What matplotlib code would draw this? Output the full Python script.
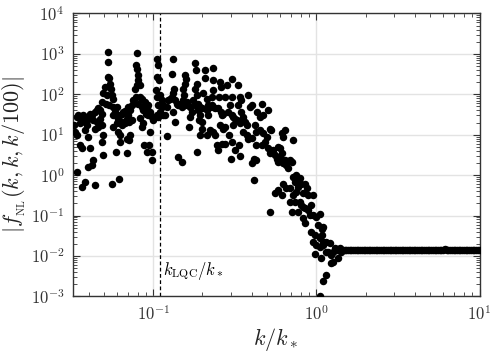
import numpy as np
import matplotlib
matplotlib.use("Agg")
import matplotlib.pyplot as plt
from matplotlib.ticker import LogLocator, NullFormatter, FuncFormatter

# ---- data (log10 values) ----
log10_k_scatter = [
    -1.487, -1.481, -1.471, -1.461, -1.450, -1.440, -1.430, -1.420, -1.409, -1.467,
    -1.450, -1.440, -1.471, -1.440, -1.420, -1.400, -1.379, -1.369, -1.389, -1.400,
    -1.420, -1.409, -1.400, -1.389, -1.379, -1.369, -1.358, -1.348, -1.338, -1.328,
    -1.317, -1.328, -1.348, -1.358, -1.338, -1.317, -1.308, -1.317, -1.311, -1.358,
    -1.281, -1.277, -1.281, -1.271, -1.299, -1.267, -1.262, -1.308, -1.287, -1.256,
    -1.246, -1.271, -1.250, -1.291, -1.314, -1.236, -1.225, -1.246, -1.250, -1.225,
    -1.216, -1.205, -1.205, -1.230, -1.256, -1.210, -1.216, -1.205, -1.195, -1.185,
    -1.175, -1.185, -1.195, -1.175, -1.164, -1.154, -1.148, -1.134, -1.144, -1.134,
    -1.123, -1.154, -1.164, -1.148, -1.164, -1.144, -1.103, -1.107, -1.103, -1.093,
    -1.093, -1.103, -1.083, -1.113, -1.107, -1.083, -1.072, -1.093, -1.072, -1.062,
    -1.083, -1.066, -1.072, -1.052, -1.042, -1.032, -1.021, -1.046, -1.032, -1.011,
    -1.058, -1.042, -1.026, -1.011, -1.011, -1.021, -0.980, -0.974, -0.977, -0.964,
    -0.985, -0.977, -0.960, -0.950, -0.971, -0.960, -0.980, -1.001, -0.971, -0.940,
    -0.950, -0.940, -0.882, -0.885, -0.919, -0.909, -0.899, -0.888, -0.879, -0.874,
    -0.868, -0.858, -0.848, -0.879, -0.930, -0.868, -0.915, -0.848, -0.827, -0.807,
    -0.801, -0.807, -0.817, -0.813, -0.821, -0.838, -0.827, -0.807, -0.797, -0.787,
    -0.776, -0.766, -0.776, -0.780, -0.746, -0.740, -0.735, -0.746, -0.735, -0.756,
    -0.746, -0.725, -0.715, -0.725, -0.705, -0.715, -0.719, -0.705, -0.715, -0.699,
    -0.732, -0.684, -0.684, -0.695, -0.674, -0.664, -0.654, -0.643, -0.634, -0.623,
    -0.674, -0.664, -0.654, -0.674, -0.634, -0.623, -0.637, -0.634, -0.634, -0.643,
    -0.593, -0.588, -0.597, -0.603, -0.588, -0.582, -0.572, -0.593, -0.572, -0.562,
    -0.562, -0.551, -0.582, -0.613, -0.603, -0.562, -0.536, -0.515, -0.521, -0.531,
    -0.542, -0.521, -0.511, -0.501, -0.490, -0.511, -0.521, -0.501, -0.525, -0.474,
    -0.466, -0.480, -0.470, -0.480, -0.460, -0.450, -0.439, -0.425, -0.419, -0.409,
    -0.398, -0.429, -0.419, -0.398, -0.398, -0.384, -0.384, -0.460, -0.470, -0.450,
    -0.337, -0.364, -0.347, -0.327, -0.297, -0.378, -0.368, -0.347, -0.327, -0.306,
    -0.286, -0.276, -0.317, -0.337, -0.368, -0.297, -0.286, -0.266, -0.256, -0.245,
    -0.235, -0.225, -0.214, -0.194, -0.205, -0.235, -0.225, -0.214, -0.205, -0.194,
    -0.184, -0.174, -0.164, -0.153, -0.143, -0.368, -0.143, -0.123, -0.133, -0.102,
    -0.113, -0.092, -0.072, -0.061, -0.082, -0.123, -0.143, -0.164, -0.184, -0.205,
    -0.214, -0.256, -0.235, -0.164, -0.133, -0.153, -0.113, -0.102, -0.092, -0.082,
    -0.072, -0.051, -0.041, -0.031, -0.021, -0.051, -0.082, -0.072, -0.286, -0.021,
    0.000, 0.020, 0.010, 0.031, 0.040, -0.031, -0.010, -0.021, 0.000, 0.020,
    0.040, 0.061, 0.081, 0.071, 0.092, 0.102, 0.112, 0.123, 0.143, 0.153,
    0.133, 0.102, 0.092, 0.061, 0.040, 0.031, 0.020, -0.010, 0.025, 0.057,
    0.037, 0.020,
]
log10_fnl_scatter = [
    1.235, 1.07, 1.44, 1.48, 1.28, 1.40, 1.48, 1.32, 1.44, 0.99,
    0.74, 0.66, 0.08, -0.29, -0.17, 0.21, 0.25, 0.37, 0.66, 0.95,
    1.11, 1.23, 1.40, 1.52, 1.48, 1.36, 1.56, 1.60, 1.65, 1.60,
    1.52, 1.40, 1.32, 1.15, 1.19, 1.23, 0.99, 0.82, 0.51, -0.25,
    3.04, 2.81, 2.43, 2.41, 2.18, 2.26, 2.14, 2.02, 1.99, 1.98,
    1.88, 1.73, 1.69, 1.77, 1.81, 1.56, 1.69, 1.48, 1.19, 1.28,
    1.07, 0.99, 0.82, 0.58, -0.21, -0.10, 1.40, 1.48, 1.52, 1.56,
    1.58, 1.32, 1.23, 1.28, 1.40, 1.48, 1.32, 1.36, 1.60, 1.73,
    1.85, 1.69, 0.89, 0.86, 0.54, 0.99, 3.03, 2.73, 2.63, 2.47,
    2.35, 2.22, 2.22, 2.14, 1.93, 1.93, 1.89, 1.77, 1.69, 1.60,
    1.41, 1.28, 1.19, 1.81, 1.65, 1.73, 1.56, 1.52, 1.48, 1.44,
    0.74, 0.58, 0.74, 0.58, 0.37, 1.07, 2.88, 2.72, 2.43, 2.35,
    2.10, 1.93, 1.98, 1.85, 1.73, 1.56, 1.48, 1.36, 1.44, 1.48,
    1.69, 1.73, 2.88, 2.49, 1.69, 1.85, 1.89, 1.93, 2.02, 2.14,
    1.85, 1.77, 1.73, 1.56, 1.48, 1.32, 0.96, 0.45, 0.33, 2.47,
    2.39, 2.26, 2.14, 1.98, 1.85, 1.77, 1.69, 1.73, 1.81, 1.73,
    1.69, 1.56, 1.44, 1.19, 2.78, 2.59, 2.26, 2.14, 1.98, 1.85,
    1.73, 1.77, 1.69, 1.60, 1.65, 1.48, 1.36, 1.32, 1.00, 1.15,
    0.58, 2.59, 2.40, 2.04, 1.89, 1.73, 1.69, 1.73, 1.69, 1.66,
    1.60, 1.48, 1.11, 0.99, 1.07, 0.99, 2.65, 2.35, 2.10, 1.93,
    2.30, 2.18, 1.93, 1.65, 1.55, 1.48, 1.52, 1.23, 1.15, 1.19,
    1.93, 2.22, 0.78, 0.74, 0.62, 0.78, 0.99, 2.39, 1.93, 1.73,
    1.56, 1.48, 1.44, 1.40, 1.36, 1.23, 0.82, 0.62, 0.40, 0.74,
    0.48, 2.22, 1.93, 1.73, 1.56, 1.44, 1.32, 1.23, 1.99, 1.69,
    1.73, 0.99, 0.89, 0.91, 0.29, -0.11, 0.41, 1.85, 1.28, 1.07,
    1.75, 1.56, 1.44, 1.48, 1.60, 1.23, 1.07, 1.11, 1.03, 0.95,
    1.15, 1.11, 0.82, 0.74, 0.74, 0.66, 0.54, 0.62, 0.49, 0.41,
    0.33, 0.45, 1.03, 1.11, 0.95, 0.70, 0.66, 0.54, 0.29, 0.37,
    0.25, 0.17, 0.37, 0.33, 0.86, 0.37, -0.04, 0.00, -0.17, -0.08,
    -0.29, -0.21, -0.21, -0.33, -0.45, -0.41, -0.49, -0.33, -0.33, -0.21,
    -0.49, -0.45, -0.37, -0.66, -0.66, -0.91, -0.91, -0.66, -0.74, -0.78,
    -0.82, -0.86, -0.99, -0.74, -0.49, -0.49, -1.07, -1.19, -0.91, -0.99,
    -1.03, -0.95, -1.23, -1.32, -1.28, -1.40, -1.48, -1.65, -1.73, -1.77,
    -1.73, -1.65, -1.69, -1.89, -1.98, -1.89, -1.81, -1.85, -1.81, -1.89,
    -2.06, -2.14, -2.18, -1.89, -1.65, -1.48, -1.56, -1.96, -2.04, -2.47,
    -2.61, -3.00,
]

# plateau at large k
fnl_plateau = [
    0.0141, 0.0139, 0.0143, 0.0140, 0.0142, 0.0138, 0.0141, 0.0144, 0.0140, 0.0139,
    0.0142, 0.0141, 0.0143, 0.0140, 0.0138, 0.0141, 0.0142, 0.0140, 0.0143, 0.0141,
    0.0139, 0.0142, 0.0140, 0.0141, 0.0144, 0.0140, 0.0139, 0.0142, 0.0141, 0.0140,
    0.0143, 0.0141, 0.0139, 0.0142, 0.0140, 0.0141, 0.0143, 0.0140, 0.0142, 0.0141,
    0.0139, 0.0142, 0.0140, 0.0141, 0.0143, 0.0140, 0.0142, 0.0141, 0.0139, 0.0142,
    0.0140, 0.0141, 0.0144, 0.0141, 0.0142, 0.0140, 0.0143, 0.0141, 0.0142, 0.0145,
    0.0141, 0.0140, 0.0142, 0.0141, 0.0143, 0.0142, 0.0140, 0.0141, 0.0143, 0.0142,
    0.0141, 0.0143, 0.0142, 0.0144, 0.0142, 0.0141, 0.0143, 0.0142, 0.0143, 0.0142,
]
k_plateau = np.geomspace(1.45, 10.0, len(fnl_plateau))

k_lqc = 0.11
xlim = (0.032, 10.0)
ylim = (1e-3, 1e4)

# ---- style ----
plt.rcParams['mathtext.fontset'] = 'cm'
plt.rcParams['font.family'] = ['DejaVu Serif']

fig = plt.figure(figsize=(4.99, 3.58), dpi=100)
ax = fig.add_axes([0.1457, 0.172, 0.8153, 0.7905])

k_sc = 10.0 ** np.array(log10_k_scatter)
f_sc = 10.0 ** np.array(log10_fnl_scatter)

ax.plot(k_sc, f_sc, 'o', color='black', ms=5.4, mew=0, zorder=3)
ax.plot(k_plateau, fnl_plateau, 'o', color='black', ms=5.4, mew=0, zorder=3)

ax.axvline(k_lqc, color='black', ls='--', lw=0.9, dashes=(3, 2), zorder=2)
ax.text(0.1146, 10 ** -2.38, r'$k_{\rm LQC}/k_*$', fontsize=12, ha='left', va='center')

ax.set_xscale('log')
ax.set_yscale('log')
ax.set_xlim(*xlim)
ax.set_ylim(*ylim)

ax.xaxis.set_major_locator(LogLocator(base=10, numticks=20))
ax.yaxis.set_major_locator(LogLocator(base=10, numticks=20))
ax.xaxis.set_minor_locator(LogLocator(base=10, subs=np.arange(2, 10), numticks=100))
ax.yaxis.set_minor_locator(LogLocator(base=10, subs=np.arange(2, 10), numticks=100))
ax.xaxis.set_minor_formatter(NullFormatter())
ax.yaxis.set_minor_formatter(NullFormatter())
fmt = FuncFormatter(lambda v, p: r'$10^{%d}$' % int(round(np.log10(v))))
ax.xaxis.set_major_formatter(fmt)
ax.yaxis.set_major_formatter(fmt)

ax.grid(True, which='major', color='#e3e3e3', lw=1.0, zorder=0)
ax.set_axisbelow(True)

ax.tick_params(which='both', direction='in', top=True, right=True, colors='#333333',
               labelcolor='#333333', labelsize=12)
ax.tick_params(which='major', length=5, width=0.8, pad=6)
ax.tick_params(which='minor', length=3, width=0.6)
for s in ax.spines.values():
    s.set_color('#333333')
    s.set_linewidth(1.0)

ax.set_xlabel(r'$k/k_*$', fontsize=16, color='#222222', labelpad=2)
ax.set_ylabel(r'$|f_{_{\rm NL}}(k,k,k/100)|$', fontsize=16, color='#222222', labelpad=2)

fig.savefig('out.png', dpi=100)
